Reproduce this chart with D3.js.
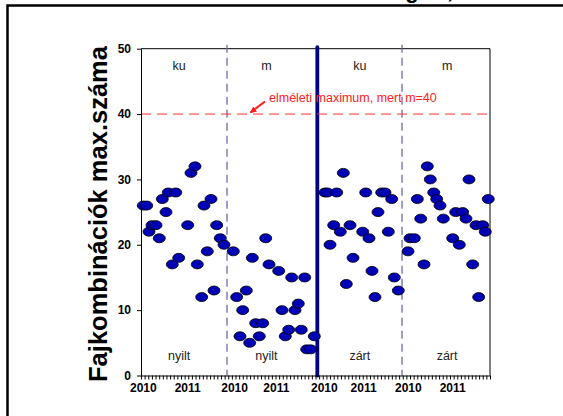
<!DOCTYPE html>
<html lang="hu">
    <head>
        <meta charset="UTF-8" />
        <title>Fajkombinációk</title>
        <script src="https://cdn.jsdelivr.net/npm/d3@7"></script>
        <style>
            body { margin: 0; background: #fff; }
            svg { display: block; font-family: Arial, "Liberation Sans", sans-serif; }
            .axis text { font-weight: bold; font-size: 12px; fill: #000; }
            .axis path, .axis line { stroke: #000; }
            .panel-label { font-size: 12.5px; fill: #222; }
        </style>
    </head>
    <body>
        <svg id="chart"></svg>
        <script>
            // sample position in months from the start of the axis (4 panels x 24 months)
            const sampleMonth = [
                0.63, 1.57, 2.2, 3.03, 4.13, 5.03, 5.86, 6.88, 7.51, 8.61, 9.55, 10.37,
                12.85, 13.75, 14.85, 15.49, 16.7, 17.33, 18.24, 19.26, 20.08, 20.82, 21.81, 22.83,
                25.39, 26.32, 27.23, 27.98, 28.97, 29.9, 30.62, 31.55, 32.54, 33.48, 34.3, 35.21,
                37.88, 38.79, 39.69, 40.63, 41.45, 42.36, 43.27, 44.09, 45.03, 45.58, 46.68, 47.67,
                50.61, 51.25, 51.99, 53.01, 53.83, 54.82, 55.65, 56.47, 57.49, 58.32, 60.99,
                61.81, 62.72, 63.54, 64.37, 65.19, 66.21, 67.12, 68.03, 68.96, 69.68, 70.78,
                73.45, 74.0, 75.18, 76.01, 76.94, 77.85, 78.76, 79.58, 80.52, 81.34, 82.25, 83.16,
                85.74, 86.57, 87.56, 88.49, 89.4, 90.22, 91.24, 92.15, 92.89, 93.99, 94.7, 95.53
            ]
            const combos = [
                26, 26, 22, 23, 23, 21, 27, 25, 28, 17, 28, 18,
                23, 31, 32, 17, 12, 26, 19, 27, 13, 23, 21, 20,
                19, 12, 6, 10, 13, 5, 18, 8, 6, 8, 21, 17,
                16, 10, 6, 7, 15, 10, 11, 7, 15, 4, 4, 6,
                28, 28, 20, 23, 28, 22, 31, 14, 23, 18, 22,
                28, 21, 16, 12, 25, 28, 28, 22, 27, 15, 13,
                19, 21, 21, 27, 24, 17, 32, 30, 28, 27, 26, 24,
                21, 25, 20, 25, 24, 30, 17, 23, 12, 23, 22, 27
            ]

            const yTicks = [0, 10, 20, 30, 40, 50]
            const yearLabels = ['2010', '2011', '2010', '2011', '2010', '2011', '2010', '2011']
            const yearMonth = [0.5, 12.7, 25.6, 37.1, 50.3, 61.1, 73.4, 85.6]

            const topLabels = ['ku', 'm', 'ku', 'm']
            const bottomLabels = ['nyilt', 'nyilt', 'zárt', 'zárt']
            const labelMonth = [10.5, 34.5, 60.2, 84.2]

            const dashedAt = [23.66, 71.8]
            const solidAt = 48.5
            const theoreticalMax = 40
            const maxNote = 'elméleti maximum, mert m=40'

            const W = 563, H = 416
            const svg = d3.select('#chart').attr('width', W).attr('height', H)

            const x = d3.scaleLinear().domain([0, 96]).range([141, 490])
            const y = d3.scaleLinear().domain([0, 50]).range([375.5, 48.7])

            // outer frame (cut off at right and bottom)
            svg.append('path')
                .attr('d', `M7.5,${H + 5}V5.5H${W + 5}`)
                .attr('fill', 'none')
                .attr('stroke', '#000')
                .attr('stroke-width', 2.5)

            // bits of a clipped title
            svg.append('text').attr('x', 412).attr('y', -2)
                .attr('text-anchor', 'middle')
                .style('font-weight', 'bold').style('font-size', '22px')
                .text('g')
            svg.append('text').attr('x', 450).attr('y', -2)
                .attr('text-anchor', 'middle')
                .style('font-weight', 'bold').style('font-size', '22px')
                .text(',')

            // plot frame top + right
            svg.append('path')
                .attr('d', `M${x(0)},${y(50)}H${x(96)}V${y(0)}`)
                .attr('fill', 'none')
                .attr('stroke', '#000')
                .attr('stroke-width', 1)

            // panel separators
            svg.selectAll('line.sep')
                .data(dashedAt)
                .enter()
                    .append('line')
                    .attr('class', 'sep')
                    .attr('x1', d => x(d)).attr('x2', d => x(d))
                    .attr('y1', y(50) - 4).attr('y2', y(0))
                    .style('stroke', '#6b6bb0')
                    .style('stroke-width', 1.3)
                    .style('stroke-dasharray', '8,5')

            svg.append('line')
                .attr('x1', x(solidAt)).attr('x2', x(solidAt))
                .attr('y1', y(50) - 1.5).attr('y2', y(0))
                .style('stroke', '#000080')
                .style('stroke-width', 3.8)
                .style('stroke-linecap', 'round')

            // theoretical maximum
            svg.append('line')
                .attr('x1', x(0)).attr('x2', x(96))
                .attr('y1', y(theoreticalMax)).attr('y2', y(theoreticalMax))
                .style('stroke', '#ff3333')
                .style('stroke-width', 1)
                .style('stroke-dasharray', '10,6')

            svg.append('defs').append('marker')
                .attr('id', 'arrow')
                .attr('viewBox', '0 0 10 10')
                .attr('refX', 9).attr('refY', 5)
                .attr('markerWidth', 3.2).attr('markerHeight', 3.2)
                .attr('orient', 'auto')
                .append('path')
                    .attr('d', 'M0,0L10,5L0,10Z')
                    .attr('fill', '#ff1a1a')

            svg.append('line')
                .attr('x1', 265).attr('y1', 101.5)
                .attr('x2', 250.5).attr('y2', 112.5)
                .style('stroke', '#ff1a1a')
                .style('stroke-width', 2)
                .attr('marker-end', 'url(#arrow)')

            svg.append('text')
                .attr('x', 269).attr('y', 101.5)
                .style('font-size', '12.5px')
                .style('fill', '#ff2020')
                .text(maxNote)

            // panel labels
            svg.selectAll('text.top')
                .data(topLabels)
                .enter()
                    .append('text')
                    .attr('class', 'panel-label top')
                    .attr('x', (d, i) => x(labelMonth[i]))
                    .attr('y', 70)
                    .attr('text-anchor', 'middle')
                    .text(d => d)

            svg.selectAll('text.bottom')
                .data(bottomLabels)
                .enter()
                    .append('text')
                    .attr('class', 'panel-label bottom')
                    .attr('x', (d, i) => x(labelMonth[i]))
                    .attr('y', 360)
                    .attr('text-anchor', 'middle')
                    .text(d => d)

            // axes
            svg.append('g')
                .attr('class', 'axis')
                .attr('transform', `translate(${x(0)},0)`)
                .call(d3.axisLeft(y).tickValues(yTicks).tickSize(4).tickSizeOuter(0).tickPadding(6))

            svg.append('g')
                .attr('class', 'axis')
                .attr('transform', `translate(0,${y(0)})`)
                .call(d3.axisBottom(x).tickValues(d3.range(0, 97)).tickSize(4).tickSizeOuter(0).tickFormat(''))

            const years = svg.append('g')
                .attr('class', 'axis')
                .attr('transform', `translate(0,${y(0)})`)
                .call(d3.axisBottom(x).tickValues(yearMonth).tickSize(0).tickPadding(7.5)
                    .tickFormat((d, i) => yearLabels[i]))
            years.select('.domain').remove()

            // points
            svg.selectAll('ellipse.pt')
                .data(sampleMonth.map((m, i) => ({ m, v: combos[i] })))
                .enter()
                    .append('ellipse')
                    .attr('class', 'pt')
                    .attr('cx', d => x(d.m))
                    .attr('cy', d => y(d.v))
                    .attr('rx', 6)
                    .attr('ry', 4.5)
                    .style('fill', '#0000b4')
                    .style('stroke', '#000')
                    .style('stroke-width', 0.8)

            // y title
            svg.append('text')
                .attr('transform', 'translate(107,214) rotate(-90)')
                .attr('text-anchor', 'middle')
                .style('font-weight', 'bold')
                .style('font-size', '25.5px')
                .text('Fajkombinációk max.száma')
        </script>
    </body>
</html>
